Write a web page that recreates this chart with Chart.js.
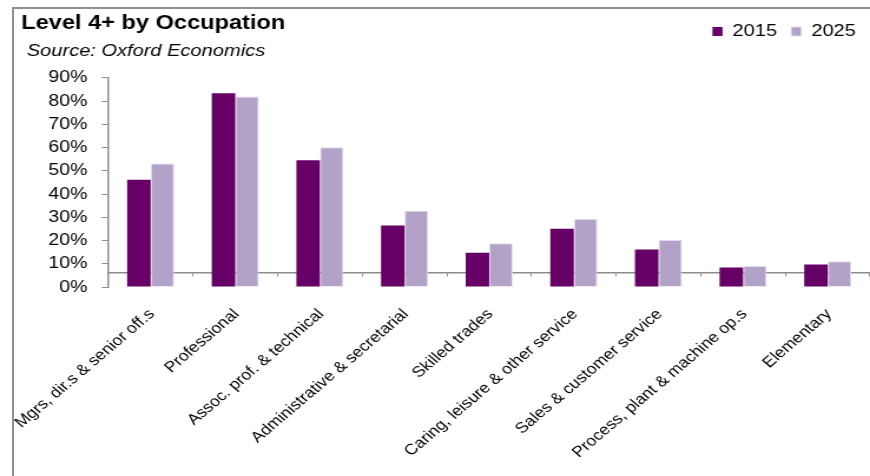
<!DOCTYPE html>
<html lang="en">
<head>
  <meta charset="UTF-8" />
  <title>Level 4+ by Occupation</title>
  <script src="https://cdn.jsdelivr.net/npm/chart.js"></script>
  <style>
    html, body { margin: 0; padding: 0; background: #fff; overflow: hidden; }
    #frame {
      position: absolute; left: 12px; top: 7px; width: 920px; height: 520px;
      border: 2px solid #909090; box-sizing: border-box;
    }
    /* the original picture is stretched sideways, so is this one */
    #wrap {
      position: absolute; left: 0; top: 0; width: 738px; height: 476px;
      transform: scaleX(1.1789); transform-origin: 0 0;
    }
  </style>
</head>
<body>
  <div id="frame"></div>
  <div id="wrap"><canvas id="occChart"></canvas></div>

  <script>
    const occupations = [
      'Mgrs, dir.s & senior off.s',
      'Professional',
      'Assoc. prof. & technical',
      'Administrative & secretarial',
      'Skilled trades',
      'Caring, leisure & other service',
      'Sales & customer service',
      'Process, plant & machine op.s',
      'Elementary'
    ];
    const years = ['2015', '2025'];
    const share2015 = [46.1, 83.3, 54.5, 26.5, 14.7, 25.1, 16.1, 8.4, 9.7];
    const share2025 = [53.1, 82.0, 60.1, 32.8, 18.8, 29.3, 20.2, 9.0, 11.1];
    const yMin = 0, yMax = 90, yStep = 10;

    Chart.defaults.font.family = '"Liberation Sans", Arial, sans-serif';
    Chart.defaults.color = '#000';

    const axisGrey = '#8c8c8c';

    const ctx = document.getElementById('occChart').getContext('2d');
    new Chart(ctx, {
      type: 'bar',
      data: {
        labels: occupations,
        datasets: [
          {
            label: years[0],
            data: share2015,
            backgroundColor: '#660066',
            categoryPercentage: 0.556,
            barPercentage: 1
          },
          {
            label: years[1],
            data: share2025,
            backgroundColor: '#B3A2C7',
            borderColor: '#E2DAEC',
            borderWidth: 1,
            categoryPercentage: 0.556,
            barPercentage: 1
          }
        ]
      },
      options: {
        responsive: true,
        maintainAspectRatio: false,
        animation: false,
        layout: { padding: { left: 18, top: 11, right: 0, bottom: 0 } },
        plugins: {
          legend: {
            position: 'top',
            align: 'end',
            weight: 3000,
            labels: { boxWidth: 8.5, boxHeight: 9, padding: 12, font: { size: 17 } }
          },
          // title sits on the same line as the legend
          title: {
            display: true,
            text: 'Level 4+ by Occupation',
            align: 'start',
            font: { size: 20, weight: 'bold' },
            padding: { top: -38.5, bottom: 0 }
          },
          subtitle: {
            display: true,
            text: ' Source: Oxford Economics',
            align: 'start',
            color: '#000',
            font: { size: 17, style: 'italic' },
            padding: { top: 5.8, bottom: 1.6 }
          },
          tooltip: { enabled: false }
        },
        scales: {
          x: {
            grid: { drawOnChartArea: false, tickLength: 4, color: axisGrey, offset: true },
            border: { color: axisGrey, width: 1.5 },
            ticks: {
              autoSkip: false,
              minRotation: 45,
              maxRotation: 45,
              padding: 29,
              labelOffset: 1,
              font: { size: 15 }
            },
            afterFit(scale) {
              scale.height = 189;
              scale.paddingLeft = 0;
              scale.paddingRight = 0;
            }
          },
          y: {
            min: yMin,
            max: yMax,
            grid: { drawOnChartArea: false, tickLength: 5.6, color: axisGrey },
            border: { color: axisGrey, width: 1.5 },
            ticks: {
              stepSize: yStep,
              padding: 12.2,
              font: { size: 16.5 },
              callback: v => v + '%'
            },
            afterFit(scale) {
              scale.width = 73.9;
            }
          }
        }
      }
    });
  </script>
</body>
</html>
